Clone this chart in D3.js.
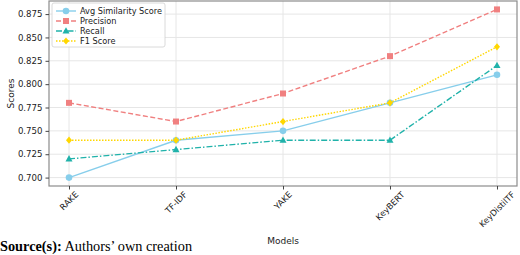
<!DOCTYPE html>
<html>
<head>
<meta charset="utf-8">
<script src="https://cdn.jsdelivr.net/npm/d3@7"></script>
<style>
  body { margin: 0; background: #fff; }
  svg { display: block; }
</style>
</head>
<body>
<svg id="chart" width="520" height="255"></svg>
<script>
// data
const models = ["RAKE", "TF-IDF", "YAKE", "KeyBERT", "KeyDistilTF"];
const avgSimilarity = [0.70, 0.74, 0.75, 0.78, 0.81];
const precision = [0.78, 0.76, 0.79, 0.83, 0.88];
const recall = [0.72, 0.73, 0.74, 0.74, 0.82];
const f1Score = [0.74, 0.74, 0.76, 0.78, 0.84];
const yTicks = [0.700, 0.725, 0.750, 0.775, 0.800, 0.825, 0.850, 0.875];

const series = [
    { name: "Avg Similarity Score", values: avgSimilarity, color: "#87ceeb", dash: null, marker: "circle" },
    { name: "Precision", values: precision, color: "#f08080", dash: "5,2.5", marker: "square" },
    { name: "Recall", values: recall, color: "#20b2aa", dash: "6,2,1.5,2", marker: "triangle" },
    { name: "F1 Score", values: f1Score, color: "#ffd700", dash: "1.5,1.5", marker: "diamond" }
];

const svg = d3.select("#chart");
const pLeft = 49, pRight = 517, pTop = 1, pBottom = 186;
const font = "DejaVu Sans, sans-serif";

const x = d3.scalePoint().domain(models).range([pLeft, pRight]).padding(0.187);
const allVals = [].concat(avgSimilarity, precision, recall, f1Score);
const lo = d3.min(allVals), hi = d3.max(allVals), pad = (hi - lo) * 0.05;
const y = d3.scaleLinear().domain([lo - pad, hi + pad]).range([pBottom, pTop]);

// grid
svg.append("g").selectAll("line").data(yTicks).enter().append("line")
    .attr("x1", pLeft).attr("x2", pRight)
    .attr("y1", d => y(d)).attr("y2", d => y(d))
    .attr("stroke", "#e6e6e6").attr("stroke-width", 1);
svg.append("g").selectAll("line").data(models).enter().append("line")
    .attr("x1", d => x(d)).attr("x2", d => x(d))
    .attr("y1", pTop).attr("y2", pBottom)
    .attr("stroke", "#e6e6e6").attr("stroke-width", 1);

// frame
svg.append("rect").attr("x", pLeft).attr("y", pTop)
    .attr("width", pRight - pLeft).attr("height", pBottom - pTop)
    .attr("fill", "none").attr("stroke", "#8c8c8c").attr("stroke-width", 1.2);

// axes
const yAxis = svg.append("g").attr("transform", `translate(${pLeft},0)`)
    .call(d3.axisLeft(y).tickValues(yTicks).tickFormat(d3.format(".3f")).tickSize(3.5).tickPadding(3));
yAxis.select(".domain").remove();
yAxis.selectAll("line").attr("stroke", "#444");
yAxis.selectAll("text").attr("font-family", font).attr("font-size", 8.6).attr("fill", "#222");

const xAxis = svg.append("g").attr("transform", `translate(0,${pBottom})`)
    .call(d3.axisBottom(x).tickSize(3.5).tickFormat(""));
xAxis.select(".domain").remove();
xAxis.selectAll("line").attr("stroke", "#444");

// rotated x labels, centred on ticks like matplotlib rotation=45
const fs = 8.4;
models.forEach(m => {
    const t = svg.append("text").text(m)
        .attr("font-family", font).attr("font-size", fs).attr("fill", "#222")
        .attr("text-anchor", "middle").attr("dominant-baseline", "central");
    const w = t.node().getComputedTextLength();
    const h = (w + fs) * Math.SQRT1_2;
    const cx = x(m), cy = pBottom + 4 + h / 2;
    t.attr("x", cx).attr("y", cy).attr("transform", `rotate(-45,${cx},${cy})`);
});

// lines and markers
const line = d3.line().x((d, i) => x(models[i])).y(d => y(d));
function drawMarker(g, type, cx, cy, color) {
    if (type === "circle") {
        g.append("circle").attr("cx", cx).attr("cy", cy).attr("r", 3.3).attr("fill", color);
    } else if (type === "square") {
        g.append("rect").attr("x", cx - 3).attr("y", cy - 3).attr("width", 6).attr("height", 6).attr("fill", color);
    } else if (type === "triangle") {
        g.append("path").attr("d", `M${cx},${cy - 3.8}L${cx + 3.5},${cy + 2.6}L${cx - 3.5},${cy + 2.6}Z`).attr("fill", color);
    } else {
        g.append("path").attr("d", `M${cx},${cy - 3.6}L${cx + 3},${cy}L${cx},${cy + 3.6}L${cx - 3},${cy}Z`).attr("fill", color);
    }
}
series.forEach(s => {
    const g = svg.append("g");
    g.append("path").datum(s.values).attr("d", line)
        .attr("fill", "none").attr("stroke", s.color).attr("stroke-width", 1.4)
        .attr("stroke-dasharray", s.dash);
    s.values.forEach((v, i) => drawMarker(g, s.marker, x(models[i]), y(v), s.color));
});

// legend
const lg = svg.append("g").attr("transform", "translate(52,3)");
lg.append("rect").attr("width", 113).attr("height", 44).attr("rx", 2)
    .attr("fill", "#fff").attr("fill-opacity", 0.85).attr("stroke", "#d0d0d0").attr("stroke-width", 0.8);
series.forEach((s, i) => {
    const ly = 8 + i * 10;
    lg.append("line").attr("x1", 4).attr("x2", 24).attr("y1", ly).attr("y2", ly)
        .attr("stroke", s.color).attr("stroke-width", 1.4).attr("stroke-dasharray", s.dash);
    drawMarker(lg, s.marker, 14, ly, s.color);
    lg.append("text").attr("x", 28).attr("y", ly).attr("dominant-baseline", "central")
        .attr("font-family", font).attr("font-size", 8.2).attr("fill", "#222").text(s.name);
});

// axis titles
svg.append("text").attr("transform", `translate(11,${(pTop + pBottom) / 2}) rotate(-90)`)
    .attr("text-anchor", "middle").attr("dominant-baseline", "central")
    .attr("font-family", font).attr("font-size", 9).attr("fill", "#222").text("Scores");
svg.append("text").attr("x", (pLeft + pRight) / 2).attr("y", 241)
    .attr("text-anchor", "middle").attr("dominant-baseline", "central")
    .attr("font-family", font).attr("font-size", 9).attr("fill", "#222").text("Models");

// source note
const src = svg.append("text").attr("x", 0).attr("y", 250.5)
    .attr("font-family", "Liberation Serif, Times New Roman, serif").attr("font-size", 14.3).attr("fill", "#000");
src.append("tspan").attr("font-weight", "bold").text("Source(s):");
src.append("tspan").text(" Authors\u2019 own creation");
</script>
</body>
</html>
